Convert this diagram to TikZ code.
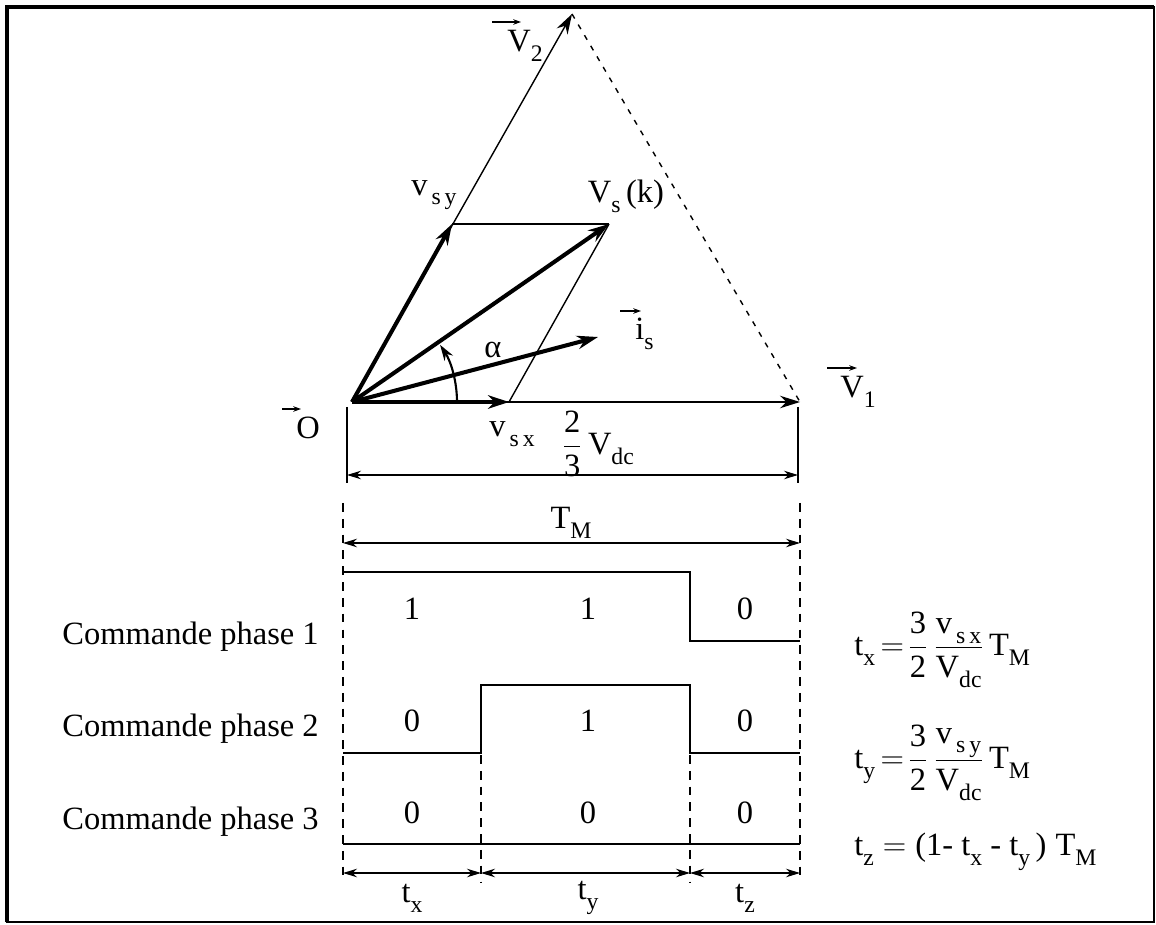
\RequirePackage{fix-cm}
\documentclass[tikz,border=0pt]{standalone}
\usepackage{fontspec}
\setmainfont{Liberation Serif}
\usetikzlibrary{arrows.meta,calc}
\newcommand\sbs[1]{\raisebox{-0.65ex}{\fontsize{13.5}{13.5}\selectfont #1}}
\begin{document}
\begin{tikzpicture}[x=0.02cm,y=-0.02cm,
  every node/.style={inner sep=0pt,font=\fontsize{18.5}{20}\selectfont},
  thinline/.style={line width=0.8pt},
  thinvec/.style={line width=0.8pt,-{Stealth[length=0.4cm,width=0.25cm]}},
  thickvec/.style={line width=2.3pt,-{Stealth[length=0.42cm,width=0.27cm]}},
  overarrow/.style={line width=0.6pt,-{Stealth[length=4.5pt,width=3.2pt]}},
  dimline/.style={line width=0.8pt,{Stealth[length=0.28cm,width=0.17cm]}-{Stealth[length=0.28cm,width=0.17cm]}},
  wave/.style={line width=1.6pt},
  dashv/.style={line width=0.8pt,dash pattern=on 5pt off 4pt},
  dotl/.style={line width=0.8pt,dash pattern=on 3pt off 4pt}]
\useasboundingbox (0,0) rectangle (1156,925);
% frame
\draw[line width=1.0pt] (7,7) rectangle (1154,922);
\draw[line width=1.8pt] (7,922) -- (7,7) -- (1154,7);
% vector diagram points
\coordinate (O) at (352,402);
\coordinate (V1) at (800,402);
\coordinate (V2) at (572,14);
\coordinate (vsy) at (452,224);
\coordinate (vsx) at (509,402);
\coordinate (Vs) at (609,224);
\coordinate (is) at (598,337);
\draw[thinvec] (O) -- (V1);
\draw[thinvec] (O) -- (V2);
\draw[dotl] (V2) -- (V1);
\draw[thinline] (vsy) -- (Vs);
\draw[thinline] (vsx) -- (Vs);
\draw[thickvec] (O) -- (vsy);
\draw[thickvec] (O) -- (vsx);
\draw[thickvec] (O) -- (Vs);
\draw[thickvec] (O) -- (is);
\draw[line width=1.2pt,-{Stealth[length=0.32cm,width=0.2cm]}] ($(O)+(105,0)$) arc (0:-33:105);
% labels with over-arrows
\node[anchor=north west] (lV2) at (507,30) {V\sbs{2}};
\draw[overarrow] ($(lV2.north west)+(-15,-8)$) -- ++(29,0);
\node[anchor=north west] (lV1) at (840,376) {V\sbs{1}};
\draw[overarrow] ($(lV1.north west)+(-13,-8)$) -- ++(30,0);
\node[anchor=north west] (lis) at (635,318) {i\sbs{s}};
\draw[overarrow] ($(lis.north west)+(-15,-7)$) -- ++(21,0);
\node[anchor=north west] (lO) at (296,417) {O};
\draw[overarrow] ($(lO.north west)+(-14,-8)$) -- ++(19,0);
% other labels
\node (lvsy) at (434,195) {v\sbs{\,s\,y}};
\node (lVs) at (626,196) {V\sbs{s}\,(k)};
\node (lal) at (493,350) {α};
\node (lvsx) at (512,434) {v\sbs{\,s\,x}};
\node (lVdc) at (598,444) {$\displaystyle\frac{\hbox{2}}{\hbox{3}}$\,V\sbs{dc}};
% dimension 2/3 Vdc
\coordinate (dt1) at (347,407);
\coordinate (db1) at (347,483);
\coordinate (dt2) at (798,407);
\coordinate (db2) at (798,483);
\draw[thinline] (dt1) -- (db1);
\draw[thinline] (dt2) -- (db2);
\coordinate (dl) at (347,475);
\coordinate (dr) at (798,475);
\draw[dimline] (dl) -- (dr);
% T_M
\node (lTM) at (571,523) {T\sbs{M}};
\coordinate (tl) at (343,543);
\coordinate (tr) at (800,543);
\draw[dimline] (tl) -- (tr);
% dashed verticals
\coordinate (a1) at (343,503); \coordinate (a2) at (343,882);
\coordinate (b1) at (800,503); \coordinate (b2) at (800,882);
\coordinate (c1) at (481,755); \coordinate (c2) at (481,882);
\coordinate (d1) at (690,755); \coordinate (d2) at (690,882);
\draw[dashv] (a1) -- (a2);
\draw[dashv] (b1) -- (b2);
\draw[dashv] (c1) -- (c2);
\draw[dashv] (d1) -- (d2);
% waveforms
\draw[wave] (343,572) -- (690,572) -- (690,641) -- (800,641);
\draw[wave] (343,753) -- (481,753) -- (481,685) -- (690,685) -- (690,753) -- (800,753);
\draw[wave] (343,844) -- (800,844);
% levels
\node at (412,609) {1}; \node at (588,609) {1}; \node at (745,609) {0};
\node at (412,721) {0}; \node at (588,721) {1}; \node at (745,721) {0};
\node at (412,813) {0}; \node at (588,813) {0}; \node at (745,813) {0};
% bottom intervals
\coordinate (e1) at (343,873); \coordinate (e2) at (481,873);
\coordinate (e3) at (690,873); \coordinate (e4) at (800,873);
\draw[dimline] (e1) -- (e2);
\draw[dimline] (e2) -- (e3);
\draw[dimline] (e3) -- (e4);
\node (ltx) at (412,898) {t\sbs{x}};
\node (lty) at (588,898) {t\sbs{y}};
\node (ltz) at (745,898) {t\sbs{z}};
% commande labels
\node[anchor=west] (c1l) at (62,637) {Commande phase 1};
\node[anchor=west] (c2l) at (62,729) {Commande phase 2};
\node[anchor=west] (c3l) at (62,822) {Commande phase 3};
% formulas
\node[anchor=west] (fx) at (854,650) {t\sbs{x}$\,=\!\displaystyle\frac{\hbox{3}}{\hbox{2}}\,\frac{\hbox{v\sbs{\,s\,x}}}{\hbox{V\sbs{dc}}}$\,T\sbs{M}};
\node[anchor=west] (fy) at (854,763) {t\sbs{y}$\,=\!\displaystyle\frac{\hbox{3}}{\hbox{2}}\,\frac{\hbox{v\sbs{\,s\,y}}}{\hbox{V\sbs{dc}}}$\,T\sbs{M}};
\node[anchor=west] (fz) at (854,852) {t\sbs{z}$\;=\;$(1- t\sbs{x} - t\sbs{y}\,)\;T\sbs{M}};
\end{tikzpicture}
\end{document}
